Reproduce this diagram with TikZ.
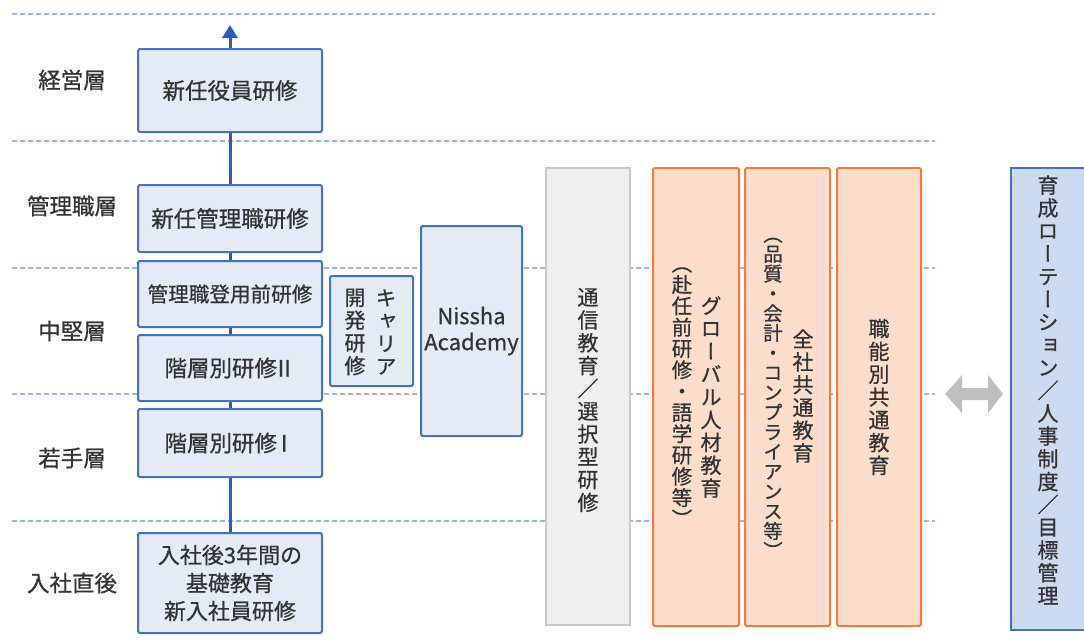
\documentclass[tikz,border=0pt]{standalone}
\usepackage{fontspec}
\setmainfont{Noto Sans CJK JP}[FakeBold=0.7]
\newfontfamily\vjp{Noto Sans CJK JP}[RawFeature=+vert, FakeBold=0.7]
\usetikzlibrary{arrows.meta}
\definecolor{txt}{HTML}{333333}
\definecolor{bluebd}{HTML}{4472C4}
\definecolor{bluefill}{HTML}{E4EAF6}
\definecolor{rfill}{HTML}{CDDBF0}
\definecolor{orbd}{HTML}{F47B3F}
\definecolor{orfill}{HTML}{FCDDCB}
\definecolor{graybd}{HTML}{C8C8C8}
\definecolor{grayfill}{HTML}{EFEFEF}
\definecolor{dashc}{HTML}{9FB6E0}
\definecolor{arrowc}{HTML}{2A5CC4}
\definecolor{darr}{HTML}{BFBFBF}
\tikzset{
  dashline/.style={draw=dashc, line width=1.5pt, dash pattern=on 4.5pt off 3.5pt},
  lbox/.style={draw=bluebd, fill=bluefill, line width=2pt, rounded corners=2pt, inner sep=0pt,
    text=txt, align=center, font=\fontsize{22.5}{28}\selectfont},
  obox/.style={draw=orbd, fill=orfill, line width=2pt, rounded corners=1.5pt, inner sep=0pt},
  gbox/.style={draw=graybd, fill=grayfill, line width=1.2pt, inner sep=0pt},
  rbox/.style={draw=bluebd, fill=rfill, line width=1.5pt, inner sep=0pt},
  lvl/.style={text=txt, font=\fontsize{22.5}{24}\selectfont, inner sep=0pt},
  vtext/.style={text=txt, align=center, inner sep=0pt, font=\vjp\fontsize{21}{22.8}\selectfont},
  vsmall/.style={text=txt, align=center, inner sep=0pt, font=\vjp\fontsize{19.5}{19.8}\selectfont},
  link/.style={draw=arrowc, line width=3pt},
}
\begin{document}
\begin{tikzpicture}[x=1pt,y=-1pt]
\useasboundingbox (0,0) rectangle (1084,641);
% level separators
\foreach \yy in {14,141,268,394,521} \draw[dashline] (12,\yy) -- (935,\yy);
% level labels
\node[lvl] (l1) at (72,80) {経営層};
\node[lvl] (l2) at (72,206) {管理職層};
\node[lvl] (l3) at (72,331) {中堅層};
\node[lvl] (l4) at (72,458) {若手層};
\node[lvl] (l5) at (72,583) {入社直後};
% left column
\node[lbox, minimum width=184pt, minimum height=83pt] (n1) at (230,90.5) {新任役員研修};
\node[lbox, minimum width=184pt, minimum height=67pt] (n2) at (230,218.5) {新任管理職研修};
\node[lbox, minimum width=184pt, minimum height=66pt, font=\fontsize{20.6}{24}\selectfont] (n3) at (230,294) {管理職登用前研修};
\node[lbox, minimum width=184pt, minimum height=66pt] (n4) at (230,368) {階層別研修\kern-4pt Ⅱ};
\node[lbox, minimum width=184pt, minimum height=68pt] (n5) at (230,443) {階層別研修\kern-4pt Ⅰ};
\node[lbox, minimum width=184pt, minimum height=100pt, font=\fontsize{22}{28}\selectfont] (n6) at (230,583) {入社後3年間の\\基礎教育\\新入社員研修};
\coordinate (top) at (230,25);
\draw[link] (n6.north) -- (n5.south);
\draw[link] (n5.north) -- (n4.south);
\draw[link] (n4.north) -- (n3.south);
\draw[link] (n3.north) -- (n2.south);
\draw[link] (n2.north) -- (n1.south);
\draw[link, -{Triangle[width=15pt,length=13pt]}] (n1.north) -- (top);
% career
\node[lbox, minimum width=83pt, minimum height=110pt] (car) at (371.5,331) {};
\node[vtext] (car1) at (386,332) {キ\\ャ\\リ\\ア};
\node[vtext] (car2) at (355,332) {開\\発\\研\\修};
% Nissha Academy
\node[lbox, minimum width=101pt, minimum height=210pt, font=\fontsize{22}{26}\selectfont] (nis) at (471.5,331) {Nissha\\Academy};
% tsushin
\node[gbox, minimum width=84pt, minimum height=457pt] (tsu) at (588,396.5) {};
\node[vtext] (tsut) at (588,400) {通\\信\\教\\育\\／\\選\\択\\型\\研\\修};
% orange boxes
\node[obox, minimum width=86pt, minimum height=458pt] (g1) at (696,397) {};
\node[vtext] (g1a) at (711,397) {グ\\ロ\\ー\\バ\\ル\\人\\材\\教\\育};
\node[vtext, font=\vjp\fontsize{20.5}{21.3}\selectfont] (g1b) at (682,397) {（\\赴\\任\\前\\研\\修\\・\\語\\学\\研\\修\\等\\）};
\node[obox, minimum width=85pt, minimum height=458pt] (g2) at (787.5,397) {};
\node[vtext] (g2a) at (803,396) {全\\社\\共\\通\\教\\育};
\node[vsmall] (g2b) at (773,398) {（\\品\\質\\・\\会\\計\\・\\コ\\ン\\プ\\ラ\\イ\\ア\\ン\\ス\\等\\）};
\node[obox, minimum width=84pt, minimum height=458pt] (g3) at (879,397) {};
\node[vtext] (g3a) at (879,397) {職\\能\\別\\共\\通\\教\\育};
% double arrow
\fill[darr] (945,394) -- (962,375) -- (962,388) -- (988,388) -- (988,375) -- (1003,394)
  -- (988,413) -- (988,400) -- (962,400) -- (962,413) -- cycle;
% right box
\node[rbox, minimum width=76pt, minimum height=462pt] (rt) at (1049,399) {};
\node[vtext] (rtt) at (1048,390) {育\\成\\ロ\\ー\\テ\\ー\\シ\\ョ\\ン\\／\\人\\事\\制\\度\\／\\目\\標\\管\\理};
\end{tikzpicture}
\end{document}
